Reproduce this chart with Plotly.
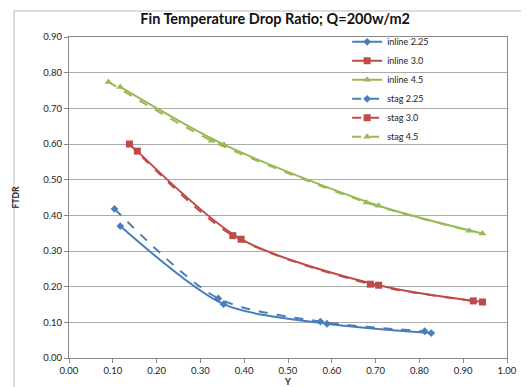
import plotly.graph_objects as go

series_names = ["inline 2.25", "inline 3.0", "inline 4.5", "stag 2.25", "stag 3.0", "stag 4.5"]

x_inline_225 = [0.117, 0.353, 0.589, 0.827]
y_inline_225 = [0.370, 0.151, 0.096, 0.070]
x_inline_30 = [0.156, 0.393, 0.707, 0.944]
y_inline_30 = [0.580, 0.333, 0.204, 0.157]
x_inline_45 = [0.117, 0.354, 0.707, 0.944]
y_inline_45 = [0.760, 0.598, 0.427, 0.349]
x_stag_225 = [0.104, 0.341, 0.574, 0.812]
y_stag_225 = [0.418, 0.167, 0.102, 0.075]
x_stag_30 = [0.138, 0.374, 0.688, 0.923]
y_stag_30 = [0.600, 0.343, 0.207, 0.160]
x_stag_45 = [0.090, 0.326, 0.679, 0.914]
y_stag_45 = [0.774, 0.609, 0.436, 0.357]

xs = [x_inline_225, x_inline_30, x_inline_45, x_stag_225, x_stag_30, x_stag_45]
ys = [y_inline_225, y_inline_30, y_inline_45, y_stag_225, y_stag_30, y_stag_45]

colors = ["#4A7EBB", "#BE4B48", "#98B954", "#4A7EBB", "#BE4B48", "#98B954"]
symbols = ["diamond", "square", "triangle-up", "diamond", "square", "triangle-up"]
sizes = [6, 7, 7, 6, 7, 7]
dashes = ["solid", "solid", "solid", "dash", "dash", "dash"]

FONT = "Lato, Liberation Sans, sans-serif"

fig = go.Figure()
for name, x, y, c, s, sz, d in zip(series_names, xs, ys, colors, symbols, sizes, dashes):
    fig.add_trace(go.Scatter(
        x=x, y=y, name=name, mode="lines+markers",
        line=dict(color=c, width=2, dash=d, shape="spline", smoothing=0.8),
        marker=dict(symbol=s, size=sz, color=c),
    ))

fig.update_layout(
    width=529, height=387,
    margin=dict(l=61, r=30, t=29, b=37, autoexpand=False),
    paper_bgcolor="white", plot_bgcolor="white",
    font=dict(family=FONT, size=9.5, color="#222"),
    title=dict(text="<b>Fin Temperature Drop Ratio; Q=200w/m2</b>",
               x=0.505, xanchor="center", y=0.972, yanchor="middle",
               font=dict(family=FONT, size=14.5, color="#111")),
    legend=dict(x=0.635, y=1.03, xanchor="left", yanchor="top",
                bgcolor="rgba(0,0,0,0)", font=dict(size=9, color="#222"),
                tracegroupgap=0, itemwidth=30),
    showlegend=True,
    shapes=[dict(type="rect", xref="paper", yref="paper",
                 x0=-0.1256, x1=1.0365, y0=-0.112, y1=1.081,
                 line=dict(color="#BBBBBB", width=1), layer="below")],
)

fig.update_xaxes(range=[0, 1], dtick=0.1, tick0=0, tickformat=".2f", automargin=False,
                 showgrid=False, showline=True, linecolor="#888888", linewidth=1,
                 mirror=True, ticks="outside", ticklen=4, tickcolor="#888888",
                 zeroline=False,
                 title=dict(text="<b>Y</b>", font=dict(size=9, color="#222"), standoff=3))
fig.update_yaxes(range=[0, 0.9], dtick=0.1, tick0=0, tickformat=".2f", automargin=False,
                 showgrid=True, gridcolor="#AAAAAA", gridwidth=1,
                 showline=True, linecolor="#888888", linewidth=1,
                 mirror=True, ticks="outside", ticklen=4, tickcolor="#888888",
                 zeroline=False,
                 title=dict(text="<b>FTDR</b>", font=dict(size=8.5, color="#222"), standoff=22))

fig.write_html("out.html")
